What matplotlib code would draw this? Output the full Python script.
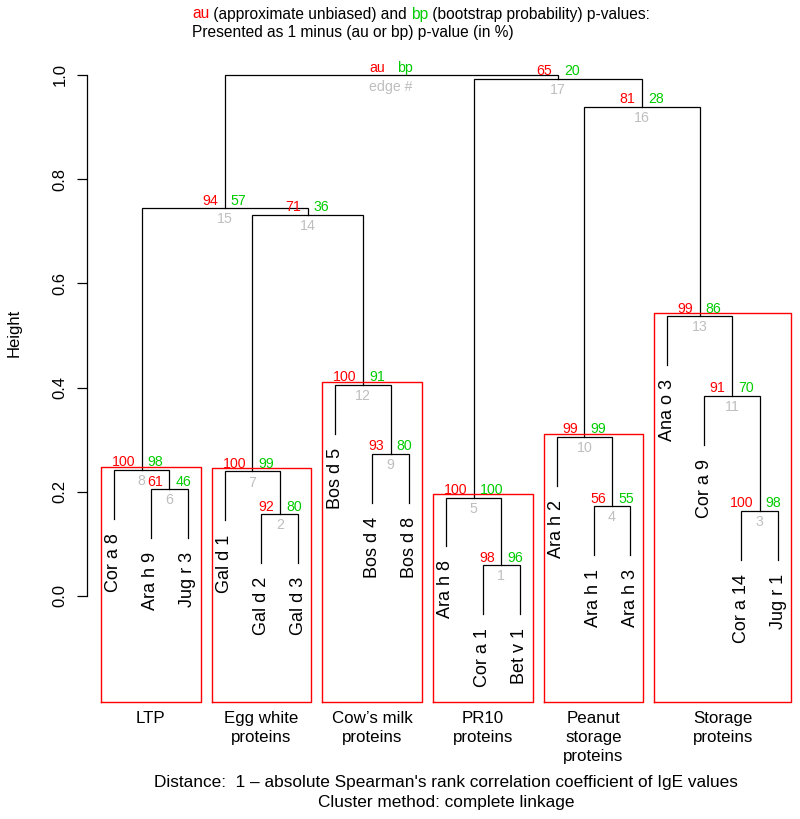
import matplotlib
matplotlib.use("Agg")
import matplotlib.pyplot as plt
from matplotlib.offsetbox import HPacker, TextArea, AnchoredOffsetbox

plt.rcParams['font.family'] = ['Liberation Sans', 'DejaVu Sans']

# ---- data ----
leaf_labels = ["Cor a 8", "Ara h 9", "Jug r 3", "Gal d 1", "Gal d 2", "Gal d 3",
               "Bos d 5", "Bos d 4", "Bos d 8", "Ara h 8", "Cor a 1", "Bet v 1",
               "Ara h 2", "Ara h 1", "Ara h 3", "Ana o 3", "Cor a 9", "Cor a 14", "Jug r 1"]
# R-style merge table: negative = leaf (1-based), positive = earlier merge
merge = [(-11, -12), (-5, -6), (-18, -19), (-14, -15), (-10, 1), (-2, -3),
         (-4, 2), (-1, 6), (-8, -9), (-13, 4), (-17, 3), (-7, 9), (-16, 11),
         (7, 12), (8, 14), (10, 13), (5, 16), (15, 17)]
heights = [0.059, 0.157, 0.163, 0.172, 0.189, 0.205, 0.239, 0.242, 0.273,
           0.305, 0.384, 0.405, 0.537, 0.731, 0.744, 0.939, 0.992, 0.999]
au = ["98", "92", "100", "56", "100", "61", "100", "100", "93", "99", "91",
      "100", "99", "71", "94", "81", "65", "au"]
bp = ["96", "80", "98", "55", "100", "46", "99", "98", "80", "99", "70",
      "91", "86", "36", "57", "28", "20", "bp"]
edge_ids = [str(i) for i in range(1, 18)] + ["edge #"]

group_names = ["LTP", "Egg white\nproteins", "Cow\u2019s milk\nproteins",
               "PR10\nproteins", "Peanut\nstorage\nproteins", "Storage\nproteins"]
group_first = [1, 4, 7, 10, 13, 16]
group_last = [3, 6, 9, 12, 15, 19]
group_edge = [8, 7, 12, 5, 10, 13]

yticks = [0.0, 0.2, 0.4, 0.6, 0.8, 1.0]

RED = "#FF0000"
GREEN = "#00CD00"
GRAY = "#BEBEBE"

W, H = 800, 819
fig = plt.figure(figsize=(W / 100, H / 100), dpi=100)

ax_l, ax_r = 87.3, 804.6
ax_t, ax_b = 54.1, 635.6
ax = fig.add_axes([ax_l / W, (H - ax_b) / H, (ax_r - ax_l) / W, (ax_b - ax_t) / H])
ax.set_xlim(0.28, 19.72)
ax.set_ylim(-0.076, 1.040)

n = len(leaf_labels)
hang = 0.1 * (max(heights) - min(heights))
node_x = []

def child_pos(c, h):
    if c < 0:
        return float(-c), h - hang, True
    return node_x[c - 1], heights[c - 1], False

leaf_bottom = {}
for i, (a, b) in enumerate(merge):
    h = heights[i]
    xa, ya, la = child_pos(a, h)
    xb, yb, lb = child_pos(b, h)
    if la:
        leaf_bottom[-a] = ya
    if lb:
        leaf_bottom[-b] = yb
    ax.plot([xa, xa, xb, xb], [ya, h, h, yb], color="black", lw=0.9,
            solid_joinstyle="miter", clip_on=False)
    node_x.append((xa + xb) / 2)

# leaf labels
for k in range(1, n + 1):
    ax.annotate(leaf_labels[k - 1], (k, leaf_bottom[k]), xytext=(0, -10),
                textcoords="offset points", rotation=90, ha="center", va="top",
                fontsize=13, annotation_clip=False)

# au / bp / edge numbers
for i in range(len(merge)):
    x, h = node_x[i], heights[i]
    ax.annotate(au[i], (x, h), xytext=(-4.5, 5.5), textcoords="offset points",
                ha="right", va="center", color=RED, fontsize=10.2, annotation_clip=False)
    ax.annotate(bp[i], (x, h), xytext=(4.5, 5.5), textcoords="offset points",
                ha="left", va="center", color=GREEN, fontsize=10.2, annotation_clip=False)
    ax.annotate(edge_ids[i], (x, h), xytext=(0, -8), textcoords="offset points",
                ha="center", va="center", color=GRAY, fontsize=10.2, annotation_clip=False)

# rectangles and group labels
box_pad = 0.35
box_bottom = -0.2035
for name, f, l, e in zip(group_names, group_first, group_last, group_edge):
    top = heights[e - 1] + 0.006
    ax.plot([f - box_pad, l + box_pad, l + box_pad, f - box_pad, f - box_pad],
            [box_bottom, box_bottom, top, top, box_bottom],
            color=RED, lw=1.0, clip_on=False)
    ax.annotate(name, xy=((f + l) / 2, H - 711), xycoords=("data", "figure pixels"),
                ha="center", va="top", fontsize=12.2, linespacing=1.33,
                annotation_clip=False)

# axes styling
for s in ["top", "right", "bottom"]:
    ax.spines[s].set_visible(False)
ax.spines["left"].set_bounds(0, 1)
ax.spines["left"].set_linewidth(0.9)
ax.set_xticks([])
ax.set_yticks(yticks)
ax.set_yticklabels(["%.1f" % v for v in yticks], rotation=90, va="center")
ax.tick_params(axis="y", direction="out", length=7.2, width=0.9, labelsize=12, pad=7)

fig.text(14 / W, (H - 333) / H, "Height", rotation=90, ha="center", va="center", fontsize=12)

# titles (first line with coloured words)
parts = [("au", RED), (" (approximate unbiased) and ", "black"), ("bp", GREEN),
         (" (bootstrap probability) p-values:", "black")]
boxes = [TextArea(p, textprops=dict(color=c, fontsize=11.2)) for p, c in parts]
pack = HPacker(children=boxes, align="baseline", pad=0, sep=0)
ab = AnchoredOffsetbox(loc="center left", child=pack, frameon=False, pad=0, borderpad=0,
                       bbox_to_anchor=(192 / W, (H - 14) / H), bbox_transform=fig.transFigure)
fig.add_artist(ab)
fig.text(192 / W, (H - 32) / H, "Presented as 1 minus (au or bp) p-value (in %)",
         ha="left", va="center", fontsize=11.2)

cx = (ax_l + ax_r) / 2 / W
fig.text(cx, (H - 782) / H,
         "Distance:  1 \u2013 absolute Spearman's rank correlation coefficient of IgE values",
         ha="center", va="center", fontsize=12.4)
fig.text(cx, (H - 803) / H, "Cluster method: complete linkage",
         ha="center", va="center", fontsize=12.4)

fig.savefig("out.png", dpi=100)
